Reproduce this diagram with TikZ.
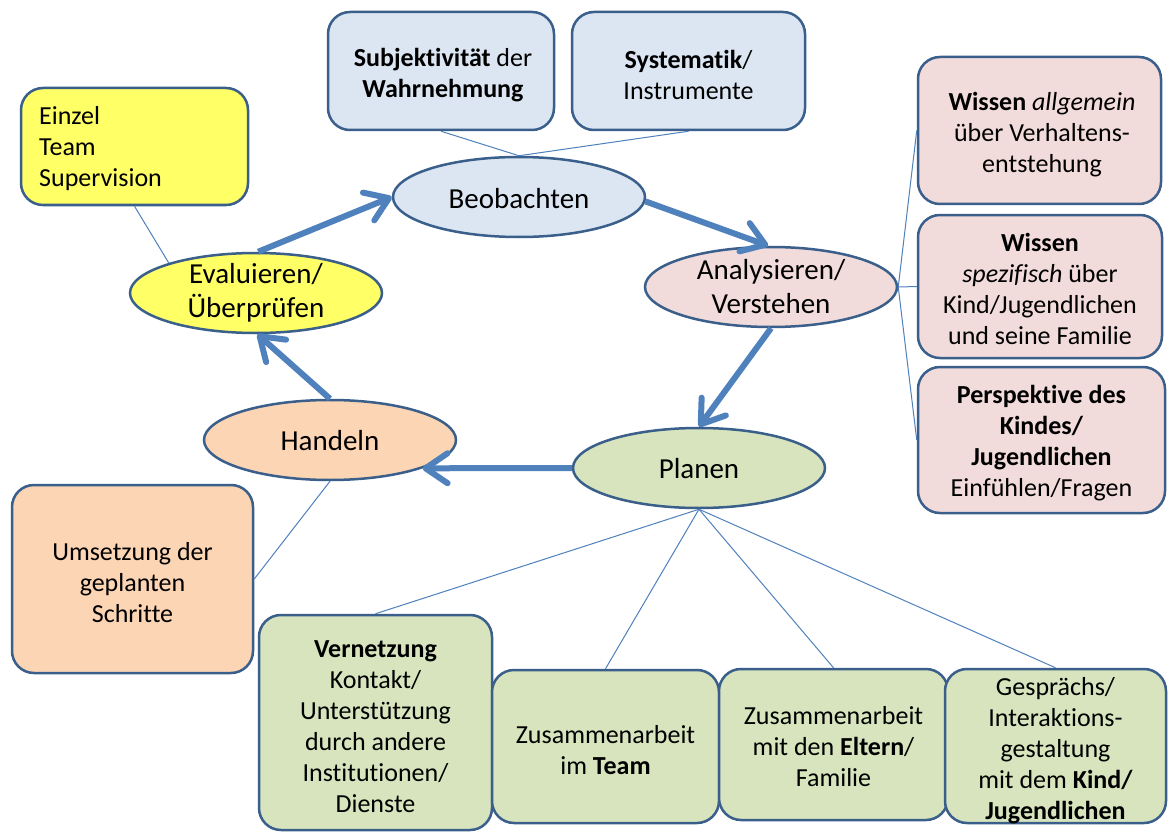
\documentclass[tikz,border=0pt]{standalone}
\usepackage{fontspec}
\setmainfont{Carlito}[Ligatures=NoCommon]
\usetikzlibrary{shapes.geometric,arrows.meta}
\definecolor{bord}{RGB}{58,95,139}
\definecolor{arr}{RGB}{79,129,189}
\definecolor{fblue}{RGB}{220,230,242}
\definecolor{fyel}{RGB}{255,255,102}
\definecolor{fpink}{RGB}{242,220,219}
\definecolor{forange}{RGB}{252,213,181}
\definecolor{fgreen}{RGB}{215,228,189}
\begin{document}
\begin{tikzpicture}[x=1pt,y=-1pt,
  ell/.style={ellipse, draw=bord, line width=2.5pt, minimum width=252pt, minimum height=80pt, inner sep=0pt},
  ltxt/.style={font=\fontsize{29}{34}\selectfont, align=center, inner sep=0pt},
  box/.style={draw=bord, line width=2.5pt, rounded corners=22pt, inner sep=0pt},
  btxt/.style={font=\fontsize{26}{31}\selectfont, inner sep=0pt, align=center},
  flow/.style={draw=arr, line width=6pt, -{Straight Barb[length=22pt,width=30pt,round]}},
  link/.style={draw=arr, line width=1pt}]
\fill[white] (0,0) rectangle (1168,832);
\useasboundingbox (0,0) rectangle (1168,832);

% boxes
\node[box, fill=fblue, minimum width=226pt, minimum height=118pt] (sub) at (441,71) {};
\node[btxt] (subt) at (443,75) {\textbf{Subjektivität} der\\\textbf{Wahrnehmung}};
\node[box, fill=fblue, minimum width=233pt, minimum height=118pt] (sys) at (688.5,71) {};
\node[btxt] (syst) at (688.5,75) {\textbf{Systematik}/\\Instrumente};
\node[box, fill=fyel, minimum width=227pt, minimum height=117pt] (ein) at (134.5,146.5) {};
\node[btxt, anchor=west, align=left] (eint) at (39,149) {Einzel\\Team\\Supervision};
\node[box, fill=fpink, minimum width=243pt, minimum height=147pt] (wa) at (1039.5,130.5) {};
\node[btxt] (wat) at (1042,135) {\textbf{Wissen} \textit{allgemein}\\über Verhaltens-\\entstehung};
\node[box, fill=fpink, minimum width=244pt, minimum height=143pt] (ws) at (1040,286.5) {};
\node[btxt] (wst) at (1040,289) {\textbf{Wissen}\\\textit{spezifisch} über\\Kind/Jugendlichen\\und seine Familie};
\node[box, fill=fpink, minimum width=247pt, minimum height=146pt] (pe) at (1041.5,440) {};
\node[btxt] (pet) at (1041.5,443) {\textbf{Perspektive des}\\\textbf{Kindes/}\\\textbf{Jugendlichen}\\Einfühlen/Fragen};
\node[box, fill=forange, minimum width=241pt, minimum height=188pt] (um) at (132.5,579) {};
\node[btxt] (umt) at (132.5,583) {Umsetzung der\\geplanten\\Schritte};
\node[box, fill=fgreen, minimum width=233pt, minimum height=215pt] (ve) at (375.5,722.5) {};
\node[btxt] (vet) at (375.5,727) {\textbf{Vernetzung}\\Kontakt/\\Unterstützung\\durch andere\\Institutionen/\\Dienste};
\node[box, fill=fgreen, minimum width=227pt, minimum height=153pt] (te) at (605.5,746.5) {};
\node[btxt] (tet) at (605.5,750) {Zusammenarbeit\\im \textbf{Team}};
\node[box, fill=fgreen, minimum width=229pt, minimum height=151pt] (el) at (833.5,744.5) {};
\node[btxt] (elt) at (833.5,747) {Zusammenarbeit\\mit den \textbf{Eltern}/\\Familie};
\node[box, fill=fgreen, minimum width=221pt, minimum height=154pt] (ge) at (1055.5,746) {};
\node[btxt] (get) at (1055.5,751) {Gesprächs/\\Interaktions-\\gestaltung\\mit dem \textbf{Kind/}\\\textbf{Jugendlichen}};

% ellipses
\node[ell, fill=fblue] (be) at (519,197) {};
\node[ltxt] (bet) at (519,199) {Beobachten};
\node[ell, fill=fpink] (an) at (771,287) {};
\node[ltxt] (ant) at (an) {Analysieren/\\Verstehen};
\node[ell, fill=fgreen] (pl) at (699,468) {};
\node[ltxt] (plt) at (699,469) {Planen};
\node[ell, fill=forange] (ha) at (330,440) {};
\node[ltxt] (hat) at (330,441) {Handeln};
\node[ell, fill=fyel] (ev) at (256,293) {};
\node[ltxt] (evt) at (ev) {Evaluieren/\\Überprüfen};

% thin links
\draw[link] (ein.south) -- (ev.161);
\draw[link] (sub.south) -- (be.north);
\draw[link] (sys.south) -- (be.north);
\draw[link] (an.east) -- (wa.west);
\draw[link] (an.east) -- (ws.west);
\draw[link] (an.east) -- (pe.west);
\draw[link] (ha.south) -- (um.east);
\draw[link] (pl.south) -- (ve.north);
\draw[link] (pl.south) -- (te.north);
\draw[link] (pl.south) -- (el.north);
\draw[link] (pl.south) -- (ge.north);

% cycle arrows
\draw[flow] (ev.87) -- (be.west);
\draw[flow] (be.358) -- (an.94);
\draw[flow] (an.south) -- (pl.north);
\draw[flow] (pl.west) -- (ha.343);
\draw[flow] (ha.north) -- (ev.272);
\end{tikzpicture}
\end{document}
